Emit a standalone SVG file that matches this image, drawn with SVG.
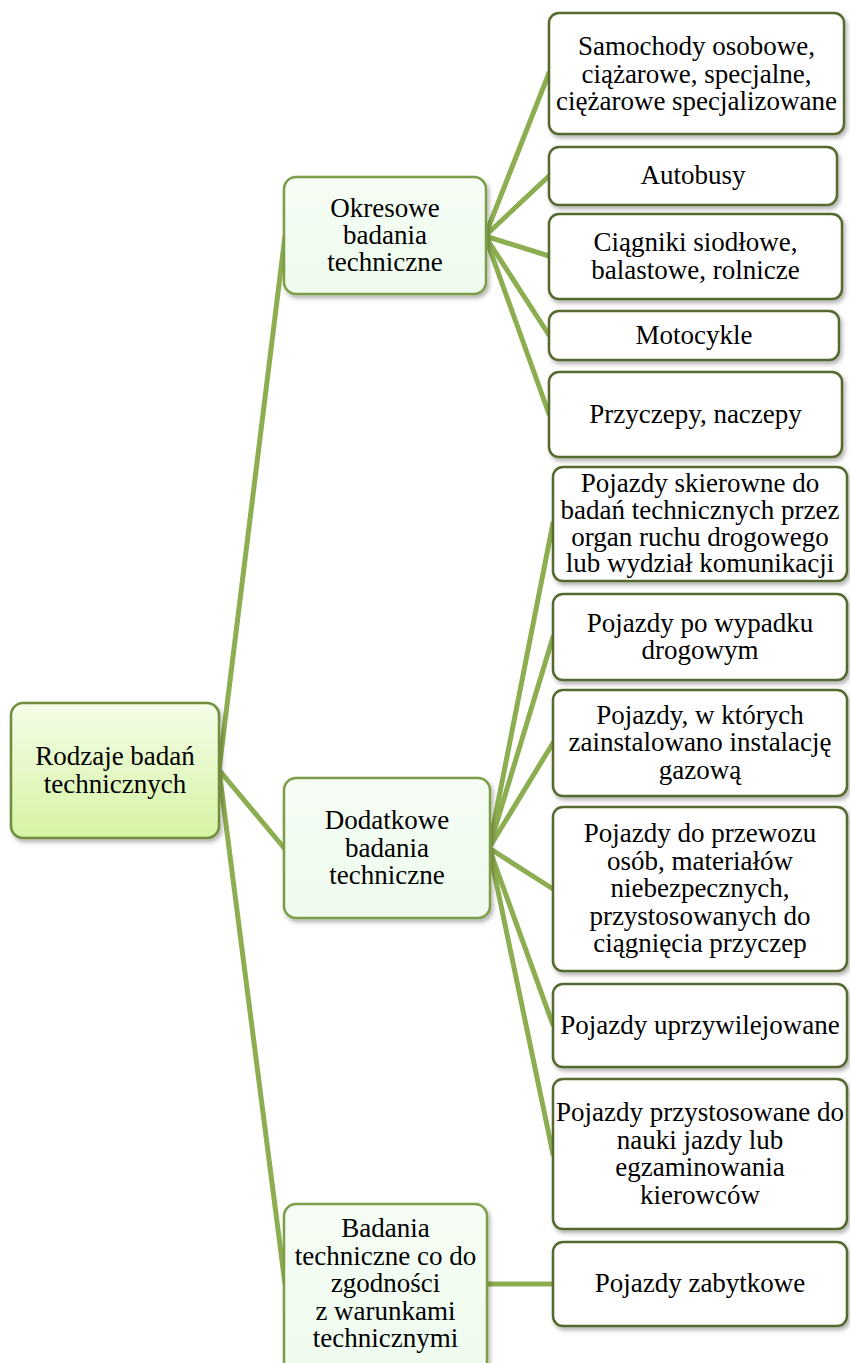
<svg xmlns="http://www.w3.org/2000/svg" width="850" height="1363" viewBox="0 0 850 1363">
<defs>
<linearGradient id="gRoot" x1="0" y1="0" x2="0" y2="1">
<stop offset="0" stop-color="#f4fde8"/>
<stop offset="1" stop-color="#d6f3a4"/>
</linearGradient>
<linearGradient id="gL2" x1="0" y1="0" x2="0" y2="1">
<stop offset="0" stop-color="#f6fdf4"/>
<stop offset="1" stop-color="#eefbee"/>
</linearGradient>
<filter id="sh" x="-10%" y="-10%" width="125%" height="125%">
<feDropShadow dx="2" dy="3" stdDeviation="2" flood-color="#000" flood-opacity="0.3"/>
</filter>
<style>
.root{fill:url(#gRoot);stroke:#6f8c3c;stroke-width:2.5}
.l2{fill:url(#gL2);stroke:#7d9d48;stroke-width:2.5}
.l3{fill:#ffffff;stroke:#56692f;stroke-width:2.5}
.c{stroke:#8cad50;stroke-width:5;fill:none;stroke-linecap:round}
text{font-family:"Liberation Serif","Times New Roman",serif;font-size:27px;fill:#000;text-anchor:middle}
</style>
</defs>
<g id="connectors">
<line class="c" x1="219" y1="770" x2="285" y2="236"/>
<line class="c" x1="219" y1="770" x2="285" y2="849"/>
<line class="c" x1="219" y1="770" x2="285" y2="1284"/>
<line class="c" x1="485" y1="236" x2="549" y2="73"/>
<line class="c" x1="485" y1="236" x2="549" y2="176"/>
<line class="c" x1="485" y1="236" x2="549" y2="256"/>
<line class="c" x1="485" y1="236" x2="549" y2="335"/>
<line class="c" x1="485" y1="236" x2="549" y2="414"/>
<line class="c" x1="489" y1="848" x2="553" y2="523"/>
<line class="c" x1="489" y1="848" x2="553" y2="637"/>
<line class="c" x1="489" y1="848" x2="553" y2="743"/>
<line class="c" x1="489" y1="848" x2="553" y2="889"/>
<line class="c" x1="489" y1="848" x2="553" y2="1025"/>
<line class="c" x1="489" y1="848" x2="553" y2="1154"/>
<line class="c" x1="487" y1="1284" x2="553" y2="1284"/>
</g>
<g id="root">
<rect class="root" x="11" y="703" width="208" height="135" rx="12" filter="url(#sh)"/>
<text x="115" y="765">Rodzaje badań</text>
<text x="115" y="792.5">technicznych</text>
</g>
<g id="okresowe">
<rect class="l2" x="284" y="177" width="202" height="117" rx="12" filter="url(#sh)"/>
<text x="385" y="216.5">Okresowe</text>
<text x="385" y="243.5">badania</text>
<text x="385" y="270.5">techniczne</text>
</g>
<g id="dodatkowe">
<rect class="l2" x="284" y="778" width="206" height="140" rx="12" filter="url(#sh)"/>
<text x="387" y="829">Dodatkowe</text>
<text x="387" y="856.5">badania</text>
<text x="387" y="884">techniczne</text>
</g>
<g id="zgodnosc">
<rect class="l2" x="284" y="1204" width="203" height="170" rx="12" filter="url(#sh)"/>
<text x="385.5" y="1237">Badania</text>
<text x="385.5" y="1264.5">techniczne co do</text>
<text x="385.5" y="1292">zgodności</text>
<text x="385.5" y="1319.5">z warunkami</text>
<text x="385.5" y="1347">technicznymi</text>
</g>
<g id="samochody">
<rect class="l3" x="549" y="13" width="295" height="121" rx="10" filter="url(#sh)"/>
<text x="696.5" y="55">Samochody osobowe,</text>
<text x="696.5" y="82.5">ciążarowe, specjalne,</text>
<text x="696.5" y="110">ciężarowe specjalizowane</text>
</g>
<g id="autobusy">
<rect class="l3" x="549" y="147" width="288" height="58" rx="10" filter="url(#sh)"/>
<text x="693" y="184">Autobusy</text>
</g>
<g id="ciagniki">
<rect class="l3" x="549" y="214" width="293" height="85" rx="10" filter="url(#sh)"/>
<text x="695.5" y="251">Ciągniki siodłowe,</text>
<text x="695.5" y="278.5">balastowe, rolnicze</text>
</g>
<g id="motocykle">
<rect class="l3" x="549" y="311" width="290" height="49" rx="10" filter="url(#sh)"/>
<text x="694" y="343.5">Motocykle</text>
</g>
<g id="przyczepy">
<rect class="l3" x="549" y="372" width="293" height="85" rx="10" filter="url(#sh)"/>
<text x="695.5" y="422.5">Przyczepy, naczepy</text>
</g>
<g id="skierowane">
<rect class="l3" x="553" y="467" width="294" height="114" rx="10" filter="url(#sh)"/>
<text x="700" y="492">Pojazdy skierowne do</text>
<text x="700" y="519">badań technicznych przez</text>
<text x="700" y="545.5">organ ruchu drogowego</text>
<text x="700" y="572">lub wydział komunikacji</text>
</g>
<g id="wypadek">
<rect class="l3" x="553" y="594" width="294" height="86" rx="10" filter="url(#sh)"/>
<text x="700" y="631.5">Pojazdy po wypadku</text>
<text x="700" y="659">drogowym</text>
</g>
<g id="gaz">
<rect class="l3" x="553" y="690" width="294" height="106" rx="10" filter="url(#sh)"/>
<text x="700" y="723.5">Pojazdy, w których</text>
<text x="700" y="751">zainstalowano instalację</text>
<text x="700" y="778.5">gazową</text>
</g>
<g id="przewoz">
<rect class="l3" x="553" y="807" width="294" height="164" rx="10" filter="url(#sh)"/>
<text x="700" y="842">Pojazdy do przewozu</text>
<text x="700" y="869.5">osób, materiałów</text>
<text x="700" y="897">niebezpecznych,</text>
<text x="700" y="924.5">przystosowanych do</text>
<text x="700" y="952">ciągnięcia przyczep</text>
</g>
<g id="uprzywilejowane">
<rect class="l3" x="553" y="984" width="294" height="83" rx="10" filter="url(#sh)"/>
<text x="700" y="1033.5">Pojazdy uprzywilejowane</text>
</g>
<g id="nauka">
<rect class="l3" x="553" y="1079" width="294" height="150" rx="10" filter="url(#sh)"/>
<text x="700" y="1121">Pojazdy przystosowane do</text>
<text x="700" y="1148.5">nauki jazdy lub</text>
<text x="700" y="1176">egzaminowania</text>
<text x="700" y="1203.5">kierowców</text>
</g>
<g id="zabytkowe">
<rect class="l3" x="553" y="1242" width="294" height="84" rx="10" filter="url(#sh)"/>
<text x="700" y="1292">Pojazdy zabytkowe</text>
</g>
</svg>
